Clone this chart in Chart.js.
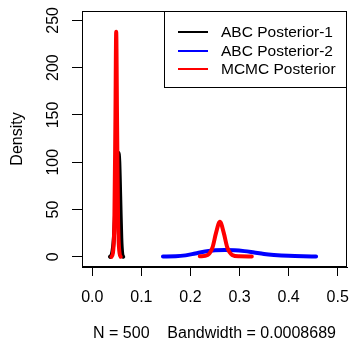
<!DOCTYPE html>
<html>
<head>
<meta charset="utf-8">
<script src="https://cdn.jsdelivr.net/npm/chart.js@4"></script>
<style>
    body { margin: 0; background: #fff; }
</style>
</head>
<body>
<canvas id="densityChart" width="352" height="342"></canvas>
<script>
//Curves (x = parameter value, y = density)
const abc1X = [0.036, 0.040, 0.044, 0.048, 0.051, 0.053, 0.055, 0.057, 0.059, 0.061, 0.063];
const abc1Y = [0, 3, 20, 65, 100, 110, 100, 60, 20, 3, 0];

const abc2X = [0.144, 0.17, 0.19, 0.21, 0.23, 0.25, 0.27, 0.29, 0.31, 0.33, 0.35, 0.37, 0.40, 0.43, 0.456];
const abc2Y = [0.3, 0.5, 1.5, 3.5, 5.5, 6.8, 7.2, 7, 6, 4.5, 3, 2, 1, 0.5, 0.3];

//MCMC has two pieces, null splits them
const mcmcX = [0.039, 0.042, 0.045, 0.047, 0.0487, 0.0505, 0.0525, 0.0555, 0.058, 0.1,
               0.219, 0.235, 0.245, 0.252, 0.26, 0.268, 0.275, 0.285, 0.30, 0.325];
const mcmcY = [0, 4, 40, 140, 238, 140, 40, 4, 0, null,
               0.5, 2, 10, 25, 37, 25, 10, 2, 0.5, 0.3];

const xTicks = [0.0, 0.1, 0.2, 0.3, 0.4, 0.5];
const yTicks = [0, 50, 100, 150, 200, 250];
const seriesNames = ['ABC Posterior-1', 'ABC Posterior-2', 'MCMC Posterior'];
const seriesColors = ['#000000', '#0000ff', '#ff0000'];
const xTitle = 'N = 500    Bandwidth = 0.0008689';
const yTitle = 'Density';

const FONT = 'Liberation Sans, Arial, Helvetica, sans-serif';

function toPoints(xs, ys) {
    return xs.map((x, i) => ({x: x, y: ys[i]}));
}

//R style box, vertical y labels and the legend
const rStyle = {
    id: 'rStyle',
    afterDraw(chart) {
        const ctx = chart.ctx;
        const area = chart.chartArea;
        const yScale = chart.scales.y;

        ctx.save();
        ctx.strokeStyle = '#000';
        ctx.lineWidth = 1;
        ctx.strokeRect(area.left + 0.5, area.top + 0.5, area.right - area.left - 1, area.bottom - area.top - 1);

        ctx.fillStyle = '#000';
        ctx.font = '16px ' + FONT;
        ctx.textAlign = 'center';
        ctx.textBaseline = 'middle';
        yTicks.forEach(v => {
            ctx.save();
            ctx.translate(54, yScale.getPixelForValue(v));
            ctx.rotate(-Math.PI / 2);
            ctx.fillText(String(v), 0, 0);
            ctx.restore();
        });

        //legend
        const boxLeft = area.right - 183;
        const boxBottom = 87;
        ctx.fillStyle = '#fff';
        ctx.fillRect(boxLeft, area.top, area.right - boxLeft, boxBottom - area.top);
        ctx.strokeStyle = '#000';
        ctx.strokeRect(boxLeft + 0.5, area.top + 0.5, area.right - boxLeft - 1, boxBottom - area.top);

        const rows = [32, 51, 69];
        ctx.font = '15.5px ' + FONT;
        ctx.textAlign = 'left';
        ctx.lineWidth = 2;
        seriesNames.forEach((name, i) => {
            ctx.strokeStyle = seriesColors[i];
            ctx.beginPath();
            ctx.moveTo(area.right - 169, rows[i]);
            ctx.lineTo(area.right - 139, rows[i]);
            ctx.stroke();
            ctx.fillStyle = '#000';
            ctx.fillText(name, area.right - 126, rows[i] + 1);
        });
        ctx.restore();
    }
};

document.addEventListener("DOMContentLoaded", (event) => {
    const canvas = document.getElementById("densityChart");

    const lineStyle = {
        borderWidth: 4,
        pointRadius: 0,
        fill: false,
        cubicInterpolationMode: 'monotone',
        borderCapStyle: 'round',
        borderJoinStyle: 'round',
        spanGaps: false
    };

    const data = {
        datasets: [{
            label: seriesNames[0],
            data: toPoints(abc1X, abc1Y),
            borderColor: seriesColors[0],
            order: 3,
            ...lineStyle
        }, {
            label: seriesNames[1],
            data: toPoints(abc2X, abc2Y),
            borderColor: seriesColors[1],
            order: 2,
            ...lineStyle
        }, {
            label: seriesNames[2],
            data: toPoints(mcmcX, mcmcY),
            borderColor: seriesColors[2],
            order: 1,
            ...lineStyle
        }]
    };

    const config = {
        type: 'line',
        data: data,
        options: {
            responsive: false,
            animation: false,
            layout: {
                padding: {top: 11, right: 5, left: 0, bottom: 0}
            },
            plugins: {
                legend: {display: false},
                tooltip: {enabled: false}
            },
            scales: {
                x: {
                    type: 'linear',
                    min: -0.021,
                    max: 0.519,
                    afterBuildTicks: (scale) => {
                        scale.ticks = xTicks.map(v => ({value: v}));
                    },
                    afterFit: (scale) => {
                        scale.height = 75;
                        scale.paddingLeft = 0;
                        scale.paddingRight = 0;
                    },
                    grid: {
                        drawOnChartArea: false,
                        drawTicks: true,
                        tickLength: 9,
                        tickColor: '#000'
                    },
                    border: {display: true, color: '#000'},
                    ticks: {
                        color: '#000',
                        font: {family: FONT, size: 16},
                        padding: 12,
                        maxRotation: 0,
                        callback: (v) => Number(v).toFixed(1)
                    },
                    title: {
                        display: true,
                        text: xTitle,
                        color: '#000',
                        font: {family: FONT, size: 16, lineHeight: 1},
                        padding: {top: 0, bottom: 0}
                    }
                },
                y: {
                    type: 'linear',
                    min: -10.8,
                    max: 259.9,
                    afterBuildTicks: (scale) => {
                        scale.ticks = yTicks.map(v => ({value: v}));
                    },
                    afterFit: (scale) => {
                        scale.width = 82;
                        scale.paddingTop = 0;
                        scale.paddingBottom = 0;
                    },
                    grid: {
                        drawOnChartArea: false,
                        drawTicks: true,
                        tickLength: 10,
                        tickColor: '#000'
                    },
                    border: {display: true, color: '#000'},
                    ticks: {
                        color: 'rgba(0,0,0,0)',
                        font: {family: FONT, size: 16}
                    },
                    title: {
                        display: true,
                        text: yTitle,
                        color: '#000',
                        font: {family: FONT, size: 16, lineHeight: 1},
                        padding: {top: 10, bottom: 0}
                    }
                }
            }
        },
        plugins: [rStyle]
    };

    new Chart(canvas, config);
});
</script>
</body>
</html>
